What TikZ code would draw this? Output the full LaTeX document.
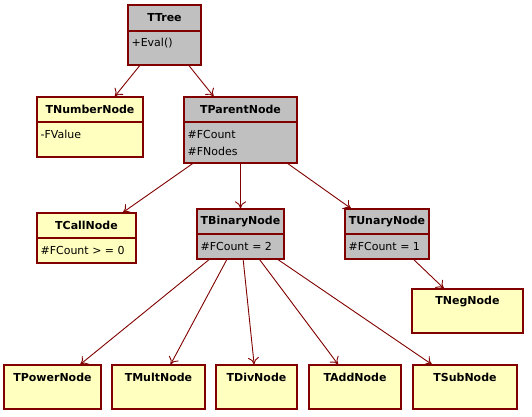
\documentclass[tikz,border=0pt]{standalone}
\usepackage{fontspec}
\setmainfont{DejaVu Sans}
\usetikzlibrary{arrows.meta}
\definecolor{umlred}{HTML}{800000}
\definecolor{umlyellow}{HTML}{FFFFC0}
\definecolor{umlgray}{HTML}{C0C0C0}

\begin{document}
\begin{tikzpicture}[x=1pt, y=-1pt,
  cls/.style={rectangle, draw=umlred, line width=1.3pt, inner sep=0pt},
  leaf/.style={cls, fill=umlyellow},
  base/.style={cls, fill=umlgray},
  title/.style={font=\fontsize{11}{13}\selectfont\bfseries, inner sep=0pt},
  attr/.style={font=\fontsize{11}{13}\selectfont, inner sep=0pt, anchor=west},
  sep/.style={draw=umlred, line width=1.3pt},
  arr/.style={-{To[length=7pt,width=11pt]}, draw=umlred, line width=0.9pt}
]
\useasboundingbox (0,0) rectangle (532,416);

% classes
\node[base, minimum width=73pt,  minimum height=60pt] (tree)   at (164.5,35)  {};
\node[leaf, minimum width=106pt, minimum height=60pt] (number) at (90,127)    {};
\node[base, minimum width=113pt, minimum height=66pt] (parent) at (240.5,130) {};
\node[leaf, minimum width=99pt,  minimum height=50pt] (call)   at (86.5,238)  {};
\node[base, minimum width=87pt,  minimum height=50pt] (binary) at (240.5,234) {};
\node[base, minimum width=84pt,  minimum height=50pt] (unary)  at (387,234)   {};
\node[leaf, minimum width=111pt, minimum height=44pt] (neg)    at (467.5,311) {};
\node[leaf, minimum width=97pt,  minimum height=44pt] (power)  at (52.5,387)  {};
\node[leaf, minimum width=93pt,  minimum height=44pt] (mult)   at (158.5,387) {};
\node[leaf, minimum width=81pt,  minimum height=44pt] (div)    at (256.5,387) {};
\node[leaf, minimum width=92pt,  minimum height=44pt] (add)    at (355,387)   {};
\node[leaf, minimum width=104pt, minimum height=44pt] (sub)    at (465,387)   {};

% dividers
\draw[sep] (tree.west |- 0,31)   -- (tree.east |- 0,31);
\draw[sep] (number.west |- 0,122) -- (number.east |- 0,122);
\draw[sep] (parent.west |- 0,122) -- (parent.east |- 0,122);
\draw[sep] (call.west |- 0,238)  -- (call.east |- 0,238);
\draw[sep] (binary.west |- 0,234) -- (binary.east |- 0,234);
\draw[sep] (unary.west |- 0,234) -- (unary.east |- 0,234);

% titles
\node[title] (tree-t)   at ([yshift=-13pt]tree.north)   {TTree};
\node[title] (number-t) at ([yshift=-13pt]number.north) {TNumberNode};
\node[title] (parent-t) at ([yshift=-13pt]parent.north) {TParentNode};
\node[title] (call-t)   at ([yshift=-13pt]call.north)   {TCallNode};
\node[title] (binary-t) at ([yshift=-13pt]binary.north) {TBinaryNode};
\node[title] (unary-t)  at ([yshift=-13pt]unary.north)  {TUnaryNode};
\node[title] (neg-t)    at ([yshift=-13pt]neg.north)    {TNegNode};
\node[title] (power-t)  at ([yshift=-13pt]power.north)  {TPowerNode};
\node[title] (mult-t)   at ([yshift=-13pt]mult.north)   {TMultNode};
\node[title] (div-t)    at ([yshift=-13pt]div.north)    {TDivNode};
\node[title] (add-t)    at ([yshift=-13pt]add.north)    {TAddNode};
\node[title] (sub-t)    at ([yshift=-13pt]sub.north)    {TSubNode};

% attributes
\node[attr] (tree-a)    at ([xshift=4pt]tree.west |- 0,43)     {+Eval()};
\node[attr] (number-a)  at ([xshift=4pt]number.west |- 0,134)  {-FValue};
\node[attr] (parent-a1) at ([xshift=4pt]parent.west |- 0,134)  {\#FCount};
\node[attr] (parent-a2) at ([xshift=4pt]parent.west |- 0,151)  {\#FNodes};
\node[attr] (call-a)    at ([xshift=4pt]call.west |- 0,250)    {\#FCount > = 0};
\node[attr] (binary-a)  at ([xshift=4pt]binary.west |- 0,246)  {\#FCount = 2};
\node[attr] (unary-a)   at ([xshift=4pt]unary.west |- 0,246)   {\#FCount = 1};

% connectors
\draw[arr] (tree) -- (number);
\draw[arr] (tree) -- (parent);
\draw[arr] (parent) -- (call);
\draw[arr] (parent) -- (binary);
\draw[arr] (parent) -- (unary);
\draw[arr] (unary) -- (neg);
\draw[arr] (binary) -- (power);
\draw[arr] (binary) -- (mult);
\draw[arr] (binary) -- (div);
\draw[arr] (binary) -- (add);
\draw[arr] (binary) -- (sub);
\end{tikzpicture}
\end{document}
